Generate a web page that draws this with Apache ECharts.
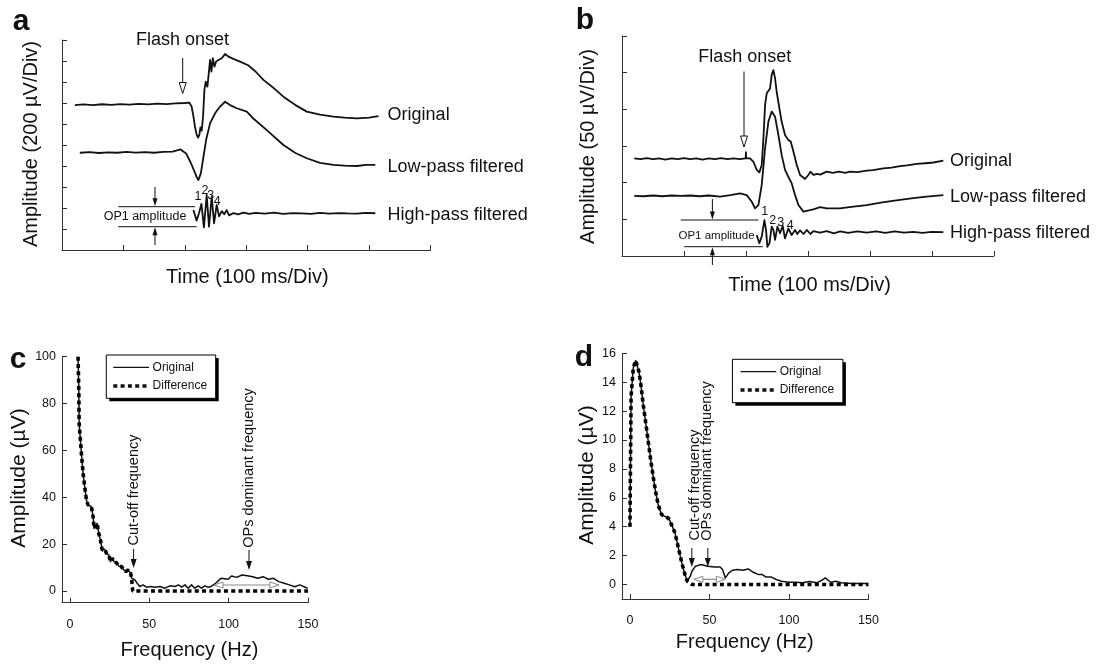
<!DOCTYPE html>
<html><head><meta charset="utf-8">
<script src="https://cdn.jsdelivr.net/npm/echarts@6/dist/echarts.min.js"></script>
<style>html,body{margin:0;padding:0;background:#fff;}#c{width:1100px;height:665px;}</style>
</head><body><div id="c"></div>
<script>
// ---------- DATA ----------
// Panel a: ERG traces, units = divisions (x: 100 ms/Div, y: 200 µV/Div)
const aOriginal = [[0.21,6.90],[0.35,6.93],[0.5,6.90],[0.65,6.94],[0.8,6.91],[0.95,6.95],[1.1,6.92],[1.25,6.96],[1.4,6.93],[1.55,6.97],[1.7,6.95],[1.85,6.98],[2.0,7.0],[2.07,7.02],[2.11,6.83],[2.14,6.35],[2.166,5.84],[2.193,5.48],[2.215,5.35],[2.236,5.48],[2.253,5.84],[2.274,5.68],[2.296,6.35],[2.318,7.62],[2.34,8.02],[2.367,7.78],[2.389,8.41],[2.41,9.05],[2.432,8.49],[2.454,9.13],[2.481,8.73],[2.508,8.97],[2.546,9.05],[2.6,9.13],[2.654,9.33],[2.709,9.21],[2.79,9.1],[2.898,8.97],[3.03,8.8],[3.15,8.5],[3.278,8.1],[3.45,7.7],[3.604,7.30],[3.8,6.9],[3.985,6.59],[4.2,6.45],[4.419,6.35],[4.6,6.3],[4.8,6.27],[5.0,6.3],[5.152,6.38]];
const aLowPass = [[0.29,4.63],[0.45,4.66],[0.6,4.62],[0.75,4.65],[0.9,4.63],[1.05,4.67],[1.2,4.64],[1.35,4.66],[1.5,4.63],[1.65,4.67],[1.8,4.68],[1.93,4.79],[2.02,4.6],[2.10,4.13],[2.19,3.49],[2.22,3.33],[2.26,3.65],[2.303,4.44],[2.35,5.3],[2.41,6.03],[2.491,6.51],[2.573,6.83],[2.654,7.06],[2.736,6.9],[2.845,6.75],[3.008,6.59],[3.1,6.3],[3.333,5.71],[3.604,5.0],[3.8,4.62],[3.985,4.37],[4.2,4.15],[4.419,4.05],[4.6,4.02],[4.8,4.0],[4.95,4.05],[5.1,4.05]];
const aHighPass = [[2.14,1.9],[2.19,1.4],[2.23,1.75],[2.27,2.2],[2.31,1.08],[2.355,2.62],[2.393,1.11],[2.437,2.54],[2.475,1.27],[2.518,2.15],[2.556,1.6],[2.6,1.85],[2.64,1.7],[2.68,1.9],[2.72,1.65],[2.79,1.76],[2.87,1.7],[2.95,1.78],[3.05,1.72],[3.15,1.77],[3.3,1.73],[3.45,1.78],[3.6,1.72],[3.75,1.76],[3.9,1.74],[4.05,1.72],[4.2,1.77],[4.35,1.73],[4.5,1.76],[4.65,1.74],[4.8,1.73],[4.95,1.77],[5.1,1.75]];
const aXTicks = [0,1,2,3,4,5,6];
const aYTicks = [0,1,2,3,4,5,6,7,8,9,10];

// Panel b: ERG traces, units = divisions (x: 100 ms/Div, y: 50 µV/Div)
const bOriginal = [[0.198,2.66],[0.3,2.64],[0.4,2.67],[0.5,2.64],[0.6,2.66],[0.7,2.63],[0.8,2.66],[0.9,2.64],[1.0,2.67],[1.1,2.64],[1.2,2.66],[1.3,2.63],[1.4,2.66],[1.5,2.64],[1.6,2.67],[1.7,2.64],[1.8,2.66],[1.9,2.64],[1.995,2.66],[2.0,2.83],[2.005,2.66],[2.067,2.66],[2.121,2.57],[2.174,2.35],[2.217,2.28],[2.255,2.48],[2.282,3.21],[2.309,4.12],[2.336,4.44],[2.362,4.48],[2.389,4.57],[2.416,4.94],[2.443,5.07],[2.47,4.85],[2.496,4.48],[2.54,4.03],[2.577,3.66],[2.631,3.3],[2.685,3.16],[2.723,3.12],[2.766,2.85],[2.82,2.48],[2.874,2.21],[2.954,2.1],[3.008,2.21],[3.04,2.3],[3.089,2.21],[3.15,2.24],[3.2,2.22],[3.303,2.3],[3.4,2.27],[3.5,2.3],[3.6,2.27],[3.68,2.3],[3.8,2.29],[3.949,2.33],[4.05,2.34],[4.218,2.39],[4.35,2.41],[4.487,2.45],[4.6,2.47],[4.756,2.51],[4.9,2.53],[5.025,2.55],[5.186,2.6]];
const bLowPass = [[0.198,1.64],[0.35,1.63],[0.5,1.65],[0.65,1.63],[0.8,1.65],[0.95,1.64],[1.1,1.65],[1.25,1.63],[1.4,1.65],[1.583,1.62],[1.75,1.66],[1.906,1.71],[2.013,1.66],[2.094,1.48],[2.147,1.3],[2.201,1.39],[2.255,1.94],[2.309,2.94],[2.362,3.66],[2.416,3.94],[2.47,3.8],[2.524,3.3],[2.577,2.75],[2.631,2.35],[2.685,2.16],[2.739,1.98],[2.793,1.66],[2.847,1.39],[2.927,1.21],[2.954,1.19],[3.035,1.25],[3.1,1.28],[3.196,1.33],[3.303,1.3],[3.519,1.3],[3.7,1.34],[3.949,1.39],[4.2,1.46],[4.487,1.53],[4.7,1.58],[4.918,1.62],[5.186,1.66]];
const bHighPass = [[2.174,0.57],[2.217,0.35],[2.255,0.53],[2.298,0.98],[2.325,0.7],[2.346,0.25],[2.38,0.35],[2.416,0.8],[2.443,0.71],[2.47,0.44],[2.508,0.8],[2.55,0.62],[2.594,0.82],[2.63,0.48],[2.685,0.75],[2.739,0.57],[2.793,0.71],[2.83,0.6],[2.874,0.7],[2.93,0.6],[2.981,0.71],[3.04,0.6],[3.089,0.68],[3.196,0.64],[3.303,0.68],[3.42,0.62],[3.52,0.67],[3.65,0.63],[3.8,0.67],[3.95,0.64],[4.1,0.67],[4.25,0.63],[4.4,0.67],[4.55,0.64],[4.7,0.66],[4.85,0.63],[5.0,0.66],[5.186,0.65]];
const bYTicks = [0,1,2,3,4,5,6];

// Panel c: spectrum (Hz, µV)
const cOriginal = [[5.1,100],[5.6,85.8],[5.8,71.5],[6.6,64.4],[7.4,57.3],[8.3,50.2],[9.3,44.5],[10.4,38.8],[11.4,36.7],[12.5,37.4],[13.5,36],[14.6,31.7],[15.2,26.7],[16.3,27.4],[17.1,28.9],[18.2,24.6],[19.2,21.8],[20.3,17.5],[21.9,17.8],[23,16.1],[24.5,15.4],[25.5,12.5],[26.8,14],[27.8,12.5],[29.3,12.1],[31,10.4],[32.5,10.4],[33.9,9],[35.2,8.3],[36.7,9],[38.2,7.6],[38.8,5.5],[39.4,4.7],[40.9,4.7],[42.4,3.3],[44,1.9],[46.1,2.6],[48.2,1.6],[50.8,1.9],[53.5,1.6],[56.7,1.9],[59.8,1.2],[63,2.2],[66.2,1.9],[68.3,2.6],[70.4,1.6],[72.5,2.6],[74.5,1.2],[76.6,2.6],[78.7,1.2],[80.8,2.2],[82.9,1.2],[85,2.2],[87.2,1.6],[88.5,1.8],[91.8,3.3],[95.1,5.4],[99.6,5.0],[101.8,6.4],[105.1,5.8],[108.4,6.8],[111.7,6.5],[115.1,6.1],[118.4,5.4],[121.7,6.1],[125,5.0],[128.3,5.4],[131.6,4.0],[135,3.3],[138.3,2.6],[141.6,1.8],[144.9,2.6],[148.3,1.6],[149.8,1.1]];
const cDifference = [[5.1,100],[5.6,85.8],[5.8,71.5],[6.6,64.4],[7.4,57.3],[8.3,50.2],[9.3,44.5],[10.4,38.8],[11.4,36.7],[12.5,37.4],[13.5,36],[14.6,31.7],[15.2,26.7],[16.3,27.4],[17.1,28.9],[18.2,24.6],[19.2,21.8],[20.3,17.5],[21.9,17.8],[23,16.1],[24.5,15.4],[25.5,12.5],[26.8,14],[27.8,12.5],[29.3,12.1],[31,10.4],[32.5,10.4],[33.9,9],[35.2,8.3],[36.7,9],[38.2,7.6],[38.8,5.5],[39.4,4.7],[39.6,0],[150,0]];
const cXTicks = [0,50,100,150];
const cYTicks = [0,20,40,60,80,100];

// Panel d: spectrum (Hz, µV)
const dOriginal = [[0,4.0],[0.7,13],[2.1,15],[3.6,15.5],[4.8,15.5],[5.7,14.7],[6.9,13.8],[8.4,12.4],[9.9,11.2],[11.5,9.9],[13.2,8.5],[14.7,7.4],[16.1,6.45],[17.8,5.5],[19.9,4.83],[22,4.72],[24.1,4.6],[25.2,4.37],[26.6,4.03],[28.3,3.57],[30,2.76],[31.4,2.07],[32.9,1.38],[34.6,0.69],[36.05,0.23],[37.1,0.35],[37.9,0.58],[39,0.92],[41.2,1.27],[44.5,1.38],[48.9,1.27],[53.3,1.22],[56.7,1.22],[58.2,1.04],[60,0.46],[62.2,0.81],[64.4,0.99],[67.7,1.04],[71,0.99],[74.3,1.08],[77.6,0.85],[80.9,0.69],[83.2,0.69],[85.4,0.53],[88.7,0.53],[92,0.35],[95.3,0.23],[99.7,0.16],[104.1,0.16],[108.5,0.12],[113,0.21],[117.4,0.12],[120.7,0.3],[122.9,0.46],[124.5,0.3],[126.2,0.16],[129.5,0.23],[132.8,0.12],[139.4,0.07],[149.3,0.07]];
const dDifference = [[0,4.0],[0.7,13],[2.1,15],[3.6,15.5],[4.8,15.5],[5.7,14.7],[6.9,13.8],[8.4,12.4],[9.9,11.2],[11.5,9.9],[13.2,8.5],[14.7,7.4],[16.1,6.45],[17.8,5.5],[19.9,4.83],[22,4.72],[24.1,4.6],[25.2,4.37],[26.6,4.03],[28.3,3.57],[30,2.76],[31.4,2.07],[32.9,1.38],[34.6,0.69],[36.05,0.23],[37.5,0.1],[39,0],[150,0]];
const dXTicks = [0,50,100,150];
const dYTicks = [0,2,4,6,8,10,12,14,16];

// ---------- CHART ----------
const FONT = '"Liberation Sans", Arial, Helvetica, sans-serif';
const INK = '#111';
const AX = '#333';
const chart = echarts.init(document.getElementById('c'), null, {renderer:'canvas', width:1100, height:665});

function axLine(){ return {show:true, onZero:false, lineStyle:{color:AX, width:1}}; }
function divX(gi){ return {gridIndex:gi, type:'value', min:0, max:6, interval:1, axisLine:axLine(), axisTick:{show:true, inside:true, length:5, lineStyle:{color:AX}}, axisLabel:{show:false}, splitLine:{show:false}}; }
function divY(gi, max){ return {gridIndex:gi, type:'value', min:0, max:max, interval:1, axisLine:axLine(), axisTick:{show:true, inside:true, length:5, lineStyle:{color:AX}}, axisLabel:{show:false}, splitLine:{show:false}}; }
function specX(gi, ticks){ return {gridIndex:gi, type:'value', min:-5, max:150, axisLine:axLine(), axisTick:{show:true, inside:true, length:5, customValues:ticks, lineStyle:{color:AX}}, axisLabel:{show:true, customValues:ticks, fontSize:12.5, margin:15, color:INK, fontFamily:FONT}, splitLine:{show:false}}; }
function specY(gi, min, max, ticks){ return {gridIndex:gi, type:'value', min:min, max:max, axisLine:axLine(), axisTick:{show:true, inside:true, length:5, customValues:ticks, lineStyle:{color:AX}}, axisLabel:{show:true, customValues:ticks, fontSize:12.5, margin:6, color:INK, fontFamily:FONT}, splitLine:{show:false}}; }

function trace(gi, name, data, w){ return {type:'line', name, xAxisIndex:gi, yAxisIndex:gi, data, symbol:'none', showSymbol:false, silent:true, animation:false, lineStyle:{color:INK, width:w||1.8, join:'round'}, z:3}; }
function dotted(gi, name, data){ return {type:'line', name, xAxisIndex:gi, yAxisIndex:gi, data, symbol:'none', showSymbol:false, silent:true, animation:false, lineStyle:{color:'#000', width:3.6, type:[4,3.3], cap:'butt'}, z:4}; }

// ---------- annotation graphics (pixel layout) ----------
const G = [];
function T(x,y,text,size,o){ o=o||{}; G.push({type:'text', x:x, y:y, rotation:o.rot||0, z:100, silent:true, style:{text:text, fill:INK, fontSize:size, fontFamily:FONT, fontWeight:o.bold?'bold':'normal', textAlign:o.align||'center', textVerticalAlign:'middle', verticalAlign:'middle'}}); }
function L(x1,y1,x2,y2,o){ o=o||{}; G.push({type:'line', z:100, silent:true, shape:{x1:x1,y1:y1,x2:x2,y2:y2}, style:{stroke:o.color||INK, lineWidth:o.w||1, lineDash:o.dash||null, lineCap:'butt'}}); }
function P(points,o){ G.push({type:'polygon', z:101, silent:true, shape:{points:points}, style:{fill:o.fill, stroke:o.stroke||null, lineWidth:o.w||1}}); }
function R(x,y,w,h,o){ G.push({type:'rect', z:o.z||99, silent:true, shape:{x:x,y:y,width:w,height:h}, style:{fill:o.fill, stroke:o.stroke||null, lineWidth:o.w||1}}); }
function vArrow(x, y0, tipY, hw, hl, o){ o=o||{}; const dir = tipY>y0?1:-1; const base = tipY - dir*hl;
  L(x, y0, x, base + (o.hollow?0:dir*1), {color:o.color||INK, w:o.w||1});
  P([[x,tipY],[x-hw/2,base],[x+hw/2,base]], o.hollow?{fill:'#fff', stroke:o.color||INK, w:1}:{fill:o.color||INK}); }
function hDouble(x1, x2, y, hw, hl, color){ L(x1+hl, y, x2-hl, y, {color:color, w:1.2});
  P([[x1,y],[x1+hl,y-hw/2],[x1+hl,y+hw/2]], {fill:'#fff', stroke:color, w:1});
  P([[x2,y],[x2-hl,y-hw/2],[x2-hl,y+hw/2]], {fill:'#fff', stroke:color, w:1}); }

// Panel a
T(21, 22, 'a', 30, {bold:true});
T(182.5, 40, 'Flash onset', 18);
vArrow(182.7, 58, 93.5, 7, 11, {hollow:true, w:1});
T(387.6, 115, 'Original', 18, {align:'left'});
T(387.6, 167.3, 'Low-pass filtered', 18, {align:'left'});
T(387.6, 215, 'High-pass filtered', 18, {align:'left'});
T(247.3, 277.5, 'Time (100 ms/Div)', 20);
T(31.6, 144, 'Amplitude (200 \u00b5V/Div)', 20, {rot:Math.PI/2});
L(118.3, 206.7, 195, 206.7, {w:1}); L(118.3, 226.7, 196.7, 226.7, {w:1});
vArrow(155, 187, 206.2, 5, 8); vArrow(155, 245, 227.2, 5, 8);
T(145, 216.7, 'OP1 amplitude', 12.5);
T(198, 197, '1', 12.5); T(205, 190.5, '2', 12.5); T(210.8, 195.5, '3', 12.5); T(217.2, 202, '4', 12.5);

// Panel b
T(585, 21, 'b', 30, {bold:true});
T(744.7, 56.7, 'Flash onset', 18);
vArrow(744, 71.5, 147, 7, 11, {hollow:true, w:1});
T(950, 160.7, 'Original', 18, {align:'left'});
T(950, 196.7, 'Low-pass filtered', 18, {align:'left'});
T(950, 233.3, 'High-pass filtered', 18, {align:'left'});
T(809.6, 285, 'Time (100 ms/Div)', 20);
T(588.6, 146.5, 'Amplitude (50 \u00b5V/Div)', 20, {rot:Math.PI/2});
L(680.8, 220, 758.5, 220, {w:1}); L(684.2, 246.7, 762.8, 246.7, {w:1});
vArrow(712.4, 199, 219.5, 5, 8); vArrow(712.4, 265, 247.2, 5, 8);
T(716.5, 236, 'OP1 amplitude', 11.5);
T(764.7, 211.7, '1', 12.5); T(772.7, 221, '2', 12.5); T(780.8, 222.7, '3', 12.5); T(790.3, 225.2, '4', 12.5);

// Panel c
T(18, 360, 'c', 30, {bold:true});
T(19.3, 478, 'Amplitude (\u00b5V)', 21, {rot:Math.PI/2});
T(189.4, 650, 'Frequency (Hz)', 20);
R(109.3, 358, 109.4, 43.3, {fill:'#000', z:98});
R(106.3, 355, 109.4, 43.3, {fill:'#fff', stroke:'#000', w:1, z:99});
L(113.3, 367.3, 149, 367.3, {w:1.2});
L(113.3, 386, 149, 386, {w:3.6, dash:[4,3.3]});
T(152.6, 367.3, 'Original', 12, {align:'left'});
T(152.6, 386, 'Difference', 12, {align:'left'});
T(133.5, 490, 'Cut-off frequency', 14.5, {rot:Math.PI/2});
vArrow(133.6, 549, 568, 6, 9);
T(249, 468, 'OPs dominant frequency', 14.5, {rot:Math.PI/2});
vArrow(249, 550, 570, 6, 9);
hDouble(214, 278.8, 585, 6, 9, '#8a8a8a');

// Panel d
T(584, 358, 'd', 30, {bold:true});
T(586.8, 475, 'Amplitude (\u00b5V)', 21, {rot:Math.PI/2});
T(744.7, 642, 'Frequency (Hz)', 20);
R(735.4, 362.3, 110.5, 43.4, {fill:'#000', z:98});
R(732.4, 359.3, 110.5, 43.4, {fill:'#fff', stroke:'#000', w:1, z:99});
L(740.5, 371.7, 776.2, 371.7, {w:1.2});
L(740.5, 390, 776.2, 390, {w:3.6, dash:[4,3.3]});
T(779.7, 371.7, 'Original', 12, {align:'left'});
T(779.7, 390, 'Difference', 12, {align:'left'});
T(694.5, 485, 'Cut-off frequency', 14.5, {rot:Math.PI/2});
vArrow(691.8, 548, 567, 6, 9);
T(707, 461, 'OPs dominant frequency', 14.5, {rot:Math.PI/2});
vArrow(707.8, 548, 567, 6, 9);
hDouble(693.8, 725.4, 579.3, 6, 9, '#8a8a8a');

const option = {
  animation:false,
  backgroundColor:'#fff',
  textStyle:{fontFamily:FONT},
  grid:[
    {left:62, top:40, width:368.6, height:210, containLabel:false, outerBoundsMode:'none'},
    {left:622, top:36, width:371.8, height:220, containLabel:false, outerBoundsMode:'none'},
    {left:62, top:356.7, width:246, height:246, containLabel:false, outerBoundsMode:'none'},
    {left:622, top:353.3, width:246.5, height:245.7, containLabel:false, outerBoundsMode:'none'}
  ],
  xAxis:[ divX(0), divX(1), specX(2, cXTicks), specX(3, dXTicks) ],
  yAxis:[ divY(0, aYTicks[aYTicks.length-1]), divY(1, bYTicks[bYTicks.length-1]), specY(2, -5, 100, cYTicks), specY(3, -1, 16, dYTicks) ],
  series:[
    trace(0,'Original',aOriginal), trace(0,'Low-pass filtered',aLowPass), trace(0,'High-pass filtered',aHighPass),
    trace(1,'Original',bOriginal), trace(1,'Low-pass filtered',bLowPass), trace(1,'High-pass filtered',bHighPass),
    trace(2,'Original',cOriginal,1.5), dotted(2,'Difference',cDifference),
    trace(3,'Original',dOriginal,1.5), dotted(3,'Difference',dDifference)
  ],
  graphic:G
};
chart.setOption(option);
</script>
</body></html>
